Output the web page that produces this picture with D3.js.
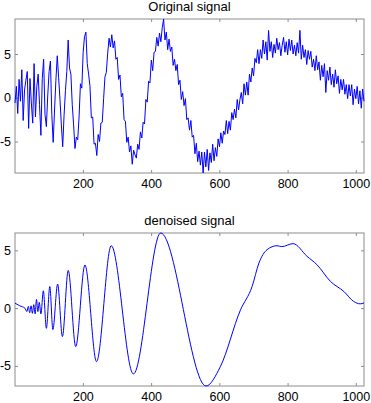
<!DOCTYPE html>
<html>
<head>
<meta charset="utf-8" />
<style>
  body { margin: 0; background: #fff; }
  svg { display: block; }
  text { font-family: "Liberation Sans", Arial, sans-serif; fill: #000; }
  .frame { fill: none; stroke: #8c8c8c; }
  .tick line { stroke: #8c8c8c; }
  .signal { fill: none; stroke: #0000ff; }
</style>
</head>
<body>
<svg id="container" width="371" height="403"></svg>
<script src="https://cdn.jsdelivr.net/npm/d3@7"></script>
<script>
var noisy = [
  -0.6,1.3,-1.8,2.1,-0.4,3.2,-2.6,0.9,2.0,3.0,
  -3.5,2.2,-0.6,-2.9,3.9,-2.2,1.3,2.7,-0.8,-4.3,
  2.2,4.4,-1.9,-3.3,0.2,3.0,4.2,-1.9,-5.1,-1.4,
  2.0,4.8,2.3,-0.2,-3.1,-5.6,-2.0,0.8,3.0,6.6,
  3.4,2.7,-0.8,-3.1,-5.8,-4.5,-4.8,-2.2,1.6,1.1,
  5.2,7.0,7.5,3.9,2.7,1.3,-2.3,-2.2,-5.3,-5.2,
  -6.6,-4.2,-5.0,-2.9,-2.8,-0.1,2.4,2.9,5.1,6.8,
  5.8,7.2,5.7,6.5,4.4,4.6,2.1,2.6,0.1,0.5,
  -2.5,-2.7,-5.1,-4.5,-6.2,-5.5,-7.6,-6.0,-6.5,-6.9,
  -5.3,-5.9,-3.9,-4.6,-2.8,-3.0,-0.2,-0.5,1.9,1.7,
  4.3,3.1,5.2,5.3,6.9,5.9,7.4,6.4,8.0,9.0,
  6.6,7.5,5.5,6.7,5.3,5.8,3.7,4.4,3.1,3.8,
  1.5,2.0,-0.2,0.7,-0.9,-0.1,-2.5,-2.3,-3.7,-2.6,
  -4.5,-4.3,-6.4,-5.2,-7.3,-6.1,-7.7,-6.2,-8.6,-6.2,
  -7.9,-5.9,-8.3,-6.3,-7.4,-5.3,-7.2,-5.7,-6.7,-4.7,
  -5.6,-4.0,-5.2,-3.8,-4.2,-2.6,-4.1,-2.7,-3.7,-1.7,
  -2.5,-1.3,-2.3,-0.2,-1.4,-0.2,0.6,-0.7,1.6,0.3,
  1.8,0.3,2.7,1.8,3.4,2.5,4.5,4.0,5.5,3.9,
  5.5,4.5,6.6,5.0,6.4,4.3,7.7,5.3,6.4,4.6,
  6.1,5.1,6.8,5.5,6.3,4.8,6.0,6.9,5.2,6.4,
  4.9,6.7,5.4,6.6,5.0,6.0,4.8,6.3,5.1,7.7,
  4.4,6.0,4.6,5.5,3.8,5.4,4.4,5.3,3.5,4.4,
  3.1,4.8,3.2,4.1,2.0,3.7,2.4,3.9,0.6,3.1,
  2.0,3.5,1.5,2.7,1.2,3.2,1.6,2.5,0.5,2.1,
  0.9,2.1,0.4,1.5,-0.1,1.5,0.2,1.5,-0.8,1.0,
  -0.1,1.3,-0.7,0.8,-1.2,1.0,-0.4
];

// denoised curve: key points (sample index, value)
var denoisedX = [1, 15, 30, 36, 40, 44, 48, 52, 56, 60, 64, 68, 72, 77, 84, 93, 103, 112, 126, 140,
  157, 179, 206, 240, 283, 348, 428, 561, 603, 662, 696, 716, 740, 769, 783, 816, 857, 886, 926,
  965, 994, 1013, 1024];
var denoisedY = [0.43, 0.2, 0.0, -0.3, 0.15, -0.4, 0.2, -0.45, 0.3, -0.5, 0.75, -0.3, 0.5, -0.5, 1.5, -1.75, 1.87, -1.85, 2.08, -2.46,
  3.26, -3.33, 3.73, -4.63, 5.4, -5.7, 6.5, -6.74, -5.06, -0.15, 1.87, 3.9, 5.06, 5.4, 5.32, 5.58, 4.48, 3.76, 2.3,
  1.44, 0.57, 0.37, 0.45];

var xTicks = [200, 400, 600, 800, 1000];
var yTicks = [-5, 0, 5];
var titles = ['Original signal', 'denoised signal'];

var svg = d3.select('#container');
var left = 15, right = 364;
var fontSize = 12.5;
var plain = function (d) { return String(d); }; // hyphen minus, no thousands comma

var x = d3.scaleLinear().domain([1, 1024]).range([left, right]);
var sampleX = d3.scaleLinear().domain([0, noisy.length - 1]).range([1, 1024]);

function panel(top, bottom, title, yDomain) {
  var y = d3.scaleLinear().domain(yDomain).range([bottom, top]);
  var g = svg.append('g');

  g.append('g')
    .attr('transform', 'translate(0,' + bottom + ')')
    .call(d3.axisBottom(x).tickValues(xTicks).tickFormat(plain).tickSize(-3).tickPadding(6))
    .call(function (a) { a.select('.domain').remove(); })
    .attr('font-size', fontSize);
  g.append('g')
    .attr('transform', 'translate(0,' + top + ')')
    .call(d3.axisTop(x).tickValues(xTicks).tickSize(-3).tickFormat(''))
    .call(function (a) { a.select('.domain').remove(); });
  g.append('g')
    .attr('transform', 'translate(' + left + ',0)')
    .call(d3.axisLeft(y).tickValues(yTicks).tickFormat(plain).tickSize(-3).tickPadding(4))
    .call(function (a) { a.select('.domain').remove(); })
    .attr('font-size', fontSize);
  g.append('g')
    .attr('transform', 'translate(' + right + ',0)')
    .call(d3.axisRight(y).tickValues(yTicks).tickSize(-3).tickFormat(''))
    .call(function (a) { a.select('.domain').remove(); });

  g.selectAll('text').attr('fill', '#000').attr('font-family', '"Liberation Sans", Arial, sans-serif');

  g.append('rect')
    .attr('class', 'frame')
    .attr('x', left).attr('y', top)
    .attr('width', right - left).attr('height', bottom - top);

  g.append('text')
    .attr('x', (left + right) / 2)
    .attr('y', top - 8)
    .attr('text-anchor', 'middle')
    .attr('font-size', 13)
    .text(title);

  return y;
}

var y1 = panel(19, 173, titles[0], d3.extent(noisy));
var y2 = panel(233, 386, titles[1], d3.extent(denoisedY));

svg.append('path')
  .datum(noisy)
  .attr('class', 'signal')
  .attr('stroke-width', 1)
  .attr('d', d3.line()
    .x(function (d, i) { return x(sampleX(i)); })
    .y(function (d) { return y1(d); }));

svg.append('path')
  .datum(denoisedX)
  .attr('class', 'signal')
  .attr('stroke-width', 1)
  .attr('d', d3.line()
    .x(function (d) { return x(d); })
    .y(function (d, i) { return y2(denoisedY[i]); })
    .curve(d3.curveMonotoneX));
</script>
</body>
</html>
